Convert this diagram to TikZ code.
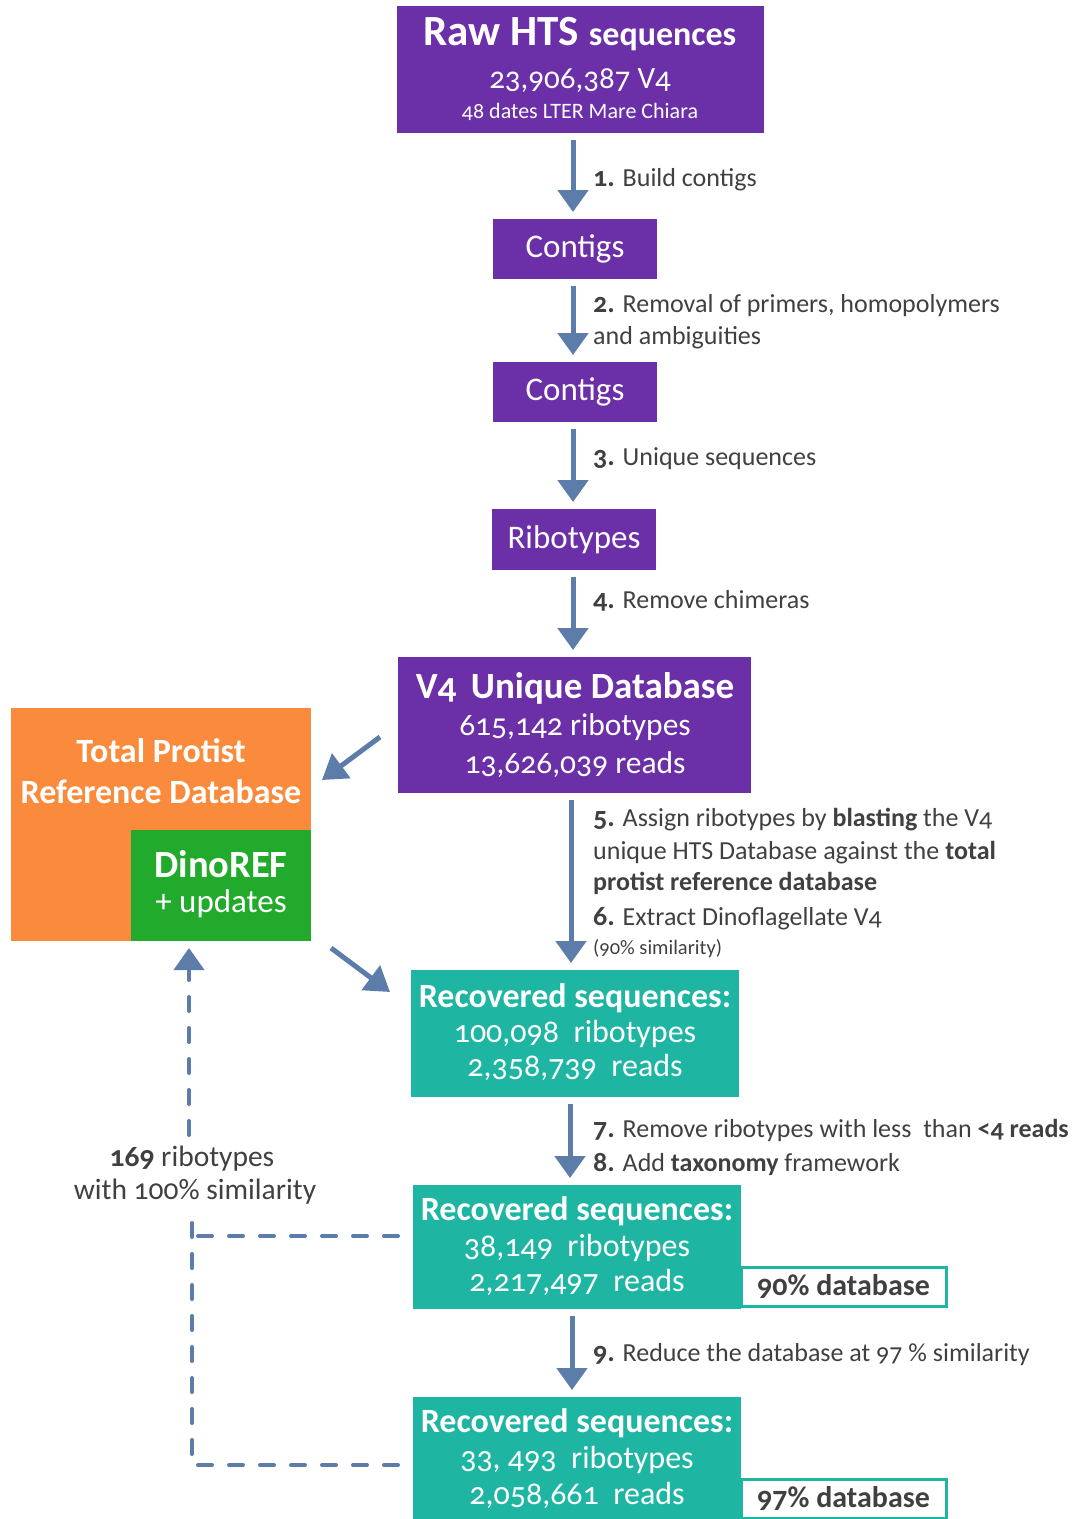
\documentclass[tikz,border=0pt]{standalone}
\usepackage{fontspec}
\setmainfont{Carlito}[Numbers=OldStyle]
\usetikzlibrary{arrows.meta}
\definecolor{rawpurple}{RGB}{107,47,168}
\definecolor{flowblue}{RGB}{92,124,170}
\definecolor{reforange}{RGB}{250,139,60}
\definecolor{dinogreen}{RGB}{34,170,44}
\definecolor{recteal}{RGB}{30,182,162}
\definecolor{labelgrey}{RGB}{64,64,64}
\newcommand\fs[1]{\fontsize{#1}{#1}\selectfont}
\newcommand\stepno[1]{{\fs{28}\bfseries #1}}
\begin{document}
\begin{tikzpicture}[x=1pt,y=-1pt,
  box/.style={inner sep=0pt, outer sep=0pt, draw=none},
  wtxt/.style={text=white, inner sep=0pt, anchor=base},
  steptxt/.style={text=labelgrey, inner sep=0pt, anchor=base west, font=\fs{26}},
  backtxt/.style={text=labelgrey, inner sep=0pt, anchor=base, font=\fs{29.5}},
  flow/.style={draw=flowblue, line width=5pt, -{Triangle[width=30pt,length=22pt]},
    shorten <=7pt, shorten >=7pt},
  dashline/.style={draw=flowblue, line width=4pt, line cap=round,
    dash pattern=on 14pt off 17pt},
  dbtag/.style={box, draw=recteal, line width=3pt, fill=white,
    minimum width=205pt, minimum height=39pt, text=labelgrey, font=\fs{30}\bfseries}]
\useasboundingbox (0,0) rectangle (1077,1519);
\clip (0,0) rectangle (1077,1519);

% ---- boxes ----
\node[box, fill=rawpurple, minimum width=367pt, minimum height=127pt] (raw) at (580.5,69.5) {};
\node[box, fill=rawpurple, minimum width=164pt, minimum height=60pt,
  text=white, font=\fs{33}] (contigs1) at (575,249) {Contigs};
\node[box, fill=rawpurple, minimum width=164pt, minimum height=60pt,
  text=white, font=\fs{33}] (contigs2) at (575,392) {Contigs};
\node[box, fill=rawpurple, minimum width=164pt, minimum height=61pt,
  text=white, font=\fs{33}] (ribo) at (574,539.5) {Ribotypes};
\node[box, fill=rawpurple, minimum width=353pt, minimum height=136pt] (v4) at (574.5,725) {};
\node[box, fill=reforange, minimum width=300pt, minimum height=233pt] (tpr) at (161,824.5) {};
\node[box, fill=dinogreen, minimum width=180pt, minimum height=111pt] (dino) at (221,885.5) {};
\node[box, fill=recteal, minimum width=328pt, minimum height=127pt] (rec1) at (575,1033.5) {};
\node[box, fill=recteal, minimum width=328pt, minimum height=124pt] (rec2) at (577,1247) {};
\node[box, fill=recteal, minimum width=328pt, minimum height=125pt] (rec3) at (577,1459.5) {};
\node[dbtag] (db90) at (843.5,1286.5) {90\% database};
\node[dbtag] (db97) at (843.5,1498.5) {97\% database};

% ---- box texts ----
\node[wtxt] (rawa) at (580,45) {\fs{43}\bfseries Raw HTS {\fs{34}sequences}};
\node[wtxt] (rawb) at (580,88) {\fs{31}23,906,387 V4};
\node[wtxt] (rawc) at (580,118) {\fs{22}48 dates LTER Mare Chiara};

\node[wtxt] (v4a) at (575,698) {\fs{37}\bfseries V4\, Unique Database};
\node[wtxt] (v4b) at (575,735) {\fs{31.5}615,142 ribotypes};
\node[wtxt] (v4c) at (575,773) {\fs{31.5}13,626,039 reads};

\node[wtxt] (tpra) at (161,762) {\fs{34}\bfseries Total Protist};
\node[wtxt] (tprb) at (161,803) {\fs{34}\bfseries Reference Database};
\node[wtxt] (dinoa) at (221,877) {\fs{38.5}\bfseries DinoREF};
\node[wtxt] (dinob) at (221,912) {\fs{33}+ updates};

\node[wtxt] (rec1a) at (575,1007) {\fs{34}\bfseries Recovered sequences:};
\node[wtxt] (rec1b) at (575,1042) {\fs{32}100,098\ \ ribotypes};
\node[wtxt] (rec1c) at (575,1076) {\fs{32}2,358,739\ \ reads};

\node[wtxt] (rec2a) at (577,1220) {\fs{34}\bfseries Recovered sequences:};
\node[wtxt] (rec2b) at (577,1256) {\fs{32}38,149\ \ ribotypes};
\node[wtxt] (rec2c) at (577,1291) {\fs{32}2,217,497\ \ reads};

\node[wtxt] (rec3a) at (577,1432) {\fs{34}\bfseries Recovered sequences:};
\node[wtxt] (rec3b) at (577,1468) {\fs{32}33, 493\ \ ribotypes};
\node[wtxt] (rec3c) at (577,1504) {\fs{32}2,058,661\ \ reads};

% ---- step labels ----
\node[steptxt] (s1) at (593,186) {\stepno{1.} Build contigs};
\node[steptxt] (s2a) at (593,312) {\stepno{2.} Removal of primers, homopolymers};
\node[steptxt] (s2b) at (593,344) {and ambiguities};
\node[steptxt] (s3) at (593,465) {\stepno{3.} Unique sequences};
\node[steptxt] (s4) at (593,608) {\stepno{4.} Remove chimeras};
\node[steptxt] (s5a) at (593,826) {\stepno{5.} Assign ribotypes by \textbf{blasting} the V4};
\node[steptxt] (s5b) at (593,859) {unique HTS Database against the \textbf{total}};
\node[steptxt] (s5c) at (593,890) {\textbf{protist reference database}};
\node[steptxt] (s6) at (593,925) {\stepno{6.} Extract Dinoflagellate V4};
\node[steptxt, font=\fs{20.5}] (s6b) at (593,954) {(90\% similarity)};
\node[steptxt] (s7) at (593,1137) {\stepno{7.} Remove ribotypes with less\ \ than \textbf{<4 reads}};
\node[steptxt] (s8) at (593,1171) {\stepno{8.} Add \textbf{taxonomy} framework};
\node[steptxt] (s9) at (593,1361) {\stepno{9.} Reduce the database at 97 \% similarity};

\node[backtxt] (backa) at (192,1166) {\textbf{169} ribotypes};
\node[backtxt] (backb) at (195,1199) {with 100\% similarity};

% ---- main flow ----
\draw[flow] ([xshift=-2pt]contigs1.north |- raw.south) -- ([xshift=-2pt]contigs1.north);
\draw[flow] ([xshift=-2pt]contigs1.south) -- ([xshift=-2pt]contigs2.north);
\draw[flow] ([xshift=-2pt]contigs2.south) -- ([xshift=-2pt]contigs2.south |- ribo.north);
\draw[flow] ([xshift=-1pt]ribo.south) -- ([xshift=-1pt]ribo.south |- v4.north);
\draw[flow] ([xshift=-4pt]rec1.north |- v4.south) -- ([xshift=-4pt]rec1.north);
\draw[flow] ([xshift=-7pt]rec2.north |- rec1.south) -- ([xshift=-7pt]rec2.north);
\draw[flow] ([xshift=-5pt]rec2.south) -- ([xshift=-5pt]rec3.north);

% ---- reference database links ----
\coordinate (d1s) at ([shift={(-18,12)}]v4.west);
\coordinate (d1e) at ([shift={(11,-44.5)}]tpr.east);
\coordinate (d2s) at ([shift={(20,7)}]dino.south east);
\coordinate (d2e) at ([shift={(-21,22)}]rec1.north west);
\draw[flow, shorten <=0pt, shorten >=0pt, -{Triangle[width=30pt,length=24pt]}] (d1s) -- (d1e);
\draw[flow, shorten <=0pt, shorten >=0pt, -{Triangle[width=30pt,length=24pt]}] (d2s) -- (d2e);

% ---- feedback of identical ribotypes ----
\coordinate (fb3) at ([shift={(-15,5.5)}]rec3.west);
\coordinate (fb2) at ([shift={(-15,-11)}]rec2.west);
\coordinate (fbc) at (192,1465);
\draw[dashline] (fb3) -- (fbc) -- (192,1212);
\draw[dashline] (fb2) -- (192,1236);
\draw[dashline, -{Triangle[width=30pt,length=22pt]}, shorten >=7pt]
  (189,1135) -- ([xshift=-32pt]dino.south);
\end{tikzpicture}
\end{document}
